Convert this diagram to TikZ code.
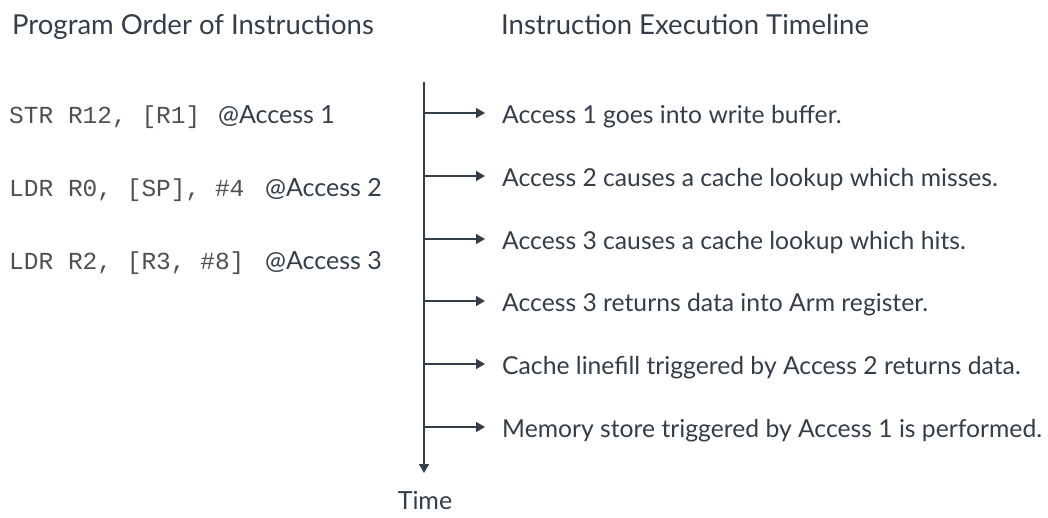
\documentclass[tikz,border=0pt]{standalone}
\usepackage{fontspec}
\setmainfont{Lato}
\setmonofont{Liberation Mono}
\usetikzlibrary{arrows.meta}
\definecolor{ink}{HTML}{333E48}
\definecolor{codegray}{HTML}{505050}
\tikzset{
  heading/.style={anchor=base west, text=ink, font=\fontsize{27.5}{32}\selectfont, inner sep=0pt},
  code/.style={anchor=base west, text=codegray, font=\ttfamily\fontsize{24.5}{28}\selectfont, inner sep=0pt},
  label/.style={anchor=base west, text=ink, font=\fontsize{25}{30}\selectfont, inner sep=0pt},
  event/.style={anchor=base west, text=ink, font=\fontsize{24.7}{30}\selectfont, inner sep=0pt},
  tip/.style={-{Triangle[length=9pt,width=10pt]}},
  axis/.style={draw=ink, line width=1.5pt},
}
\begin{document}
\begin{tikzpicture}[x=1pt,y=-1pt]
\useasboundingbox (0,0) rectangle (1048,517);
% headings
\node[heading] (h1) at (12,34) {Program Order of Instructions};
\node[heading] (h2) at (501,34) {Instruction Execution Timeline};
% program listing
\node[code] (c1) at (9,123) {STR R12, [R1]};
\node[label] (a1) at (218,123) {@Access 1};
\node[code] (c2) at (9,196) {LDR R0, [SP], \#4};
\node[label] (a2) at (265,196) {@Access 2};
\node[code] (c3) at (9,269) {LDR R2, [R3, \#8]};
\node[label] (a3) at (265,269) {@Access 3};
% time axis
\coordinate (top) at (424,82);
\coordinate (bottom) at (424,473);
\draw[axis, tip] (top) -- (bottom);
\node[anchor=base, text=ink, font=\fontsize{25}{30}\selectfont, inner sep=0pt] (time) at (425,509) {Time};
% events along the axis
\foreach \i/\y/\t in {
  1/113/{Access 1 goes into write buffer.},
  2/176/{Access 2 causes a cache lookup which misses.},
  3/239/{Access 3 causes a cache lookup which hits.},
  4/301/{Access 3 returns data into Arm register.},
  5/364/{Cache linefill triggered by Access 2 returns data.},
  6/427/{Memory store triggered by Access 1 is performed.}}{
  \coordinate (s\i) at (424,\y);
  \node[event] (e\i) at (502,\y+10) {\t};
  \draw[axis, tip] (s\i) -- (485,\y);
}
\end{tikzpicture}
\end{document}
